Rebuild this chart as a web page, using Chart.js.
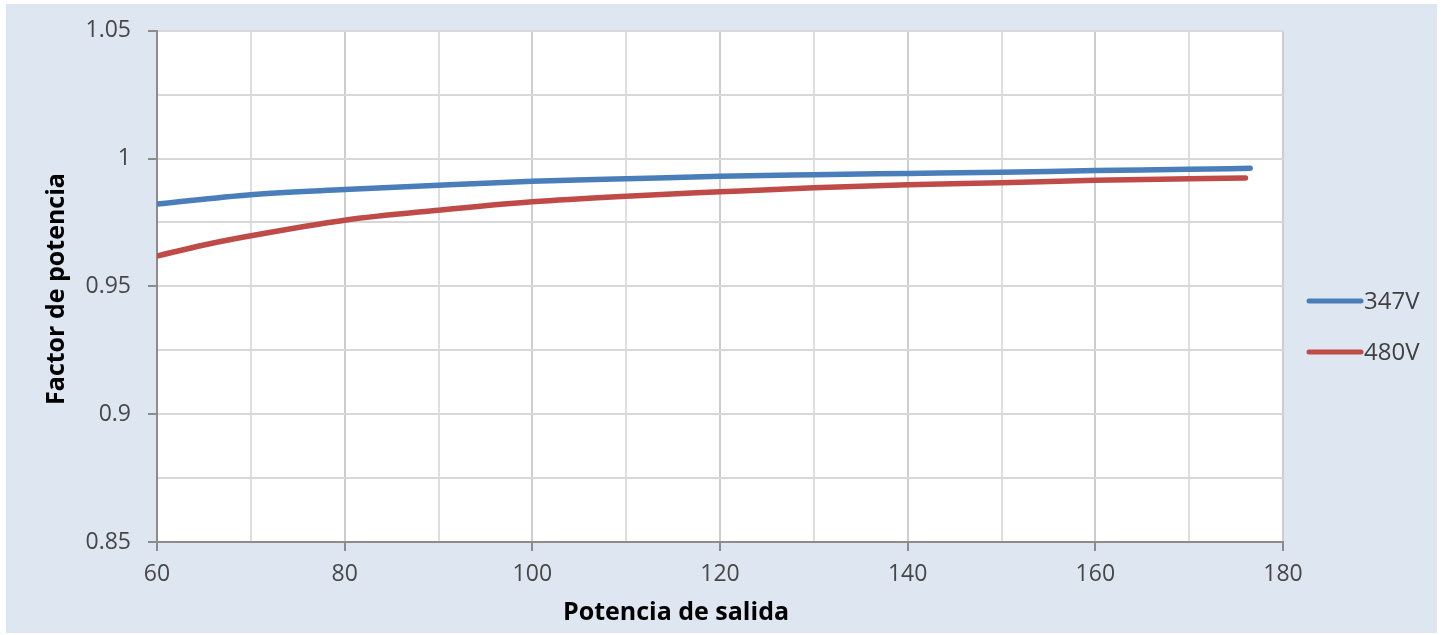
<!DOCTYPE html>
<html>
<head>
<meta charset="utf-8">
<script src="https://cdn.jsdelivr.net/npm/chart.js@4"></script>
<style>
  html, body { margin: 0; padding: 0; background: #ffffff; }
  canvas { display: block; }
</style>
</head>
<body>
<canvas id="pf" width="1444" height="635"></canvas>
<script>
// datos
var potencia347 = [60, 70, 80, 90, 100, 110, 120, 130, 140, 150, 160, 170, 176.5];
var factor347 = [0.9822, 0.9859, 0.9879, 0.9896, 0.9911, 0.9921, 0.9931, 0.9937, 0.9942, 0.9947, 0.9953, 0.9958, 0.9962];
var potencia480 = [60, 65, 70, 80, 90, 100, 110, 120, 130, 140, 150, 160, 170, 176];
var factor480 = [0.9619, 0.9662, 0.9698, 0.9759, 0.9798, 0.9831, 0.9853, 0.9870, 0.9886, 0.9898, 0.9906, 0.9915, 0.9921, 0.9924];
var series = ["347V", "480V"];
var colores = ["#4a7ebb", "#be4b48"];

function puntos(xs, ys) {
  return xs.map(function (x, i) { return {x: x, y: ys[i]}; });
}

var fuente = "'Open Sans', sans-serif";

var fondo = {
  id: 'fondo',
  beforeDraw: function (chart) {
    var ctx = chart.ctx, a = chart.chartArea;
    ctx.save();
    ctx.fillStyle = '#ffffff';
    ctx.fillRect(0, 0, chart.width, chart.height);
    ctx.fillStyle = '#dee6f1';
    ctx.fillRect(6, 4, 1431, 629);
    ctx.fillStyle = '#ffffff';
    ctx.fillRect(a.left, a.top, a.right - a.left, a.bottom - a.top);
    ctx.restore();
  },
  afterDraw: function (chart) {
    var ctx = chart.ctx;
    ctx.save();
    // titulos de ejes
    ctx.fillStyle = '#000000';
    ctx.font = "bold 25px " + fuente;
    ctx.textAlign = 'center';
    ctx.textBaseline = 'middle';
    ctx.fillText('Potencia de salida', 676, 613);
    ctx.translate(57, 289);
    ctx.rotate(-Math.PI / 2);
    ctx.fillText('Factor de potencia', 0, 0);
    ctx.restore();

    // leyenda
    ctx.save();
    ctx.font = "24px " + fuente;
    ctx.textAlign = 'left';
    ctx.textBaseline = 'middle';
    chart.data.datasets.forEach(function (ds, i) {
      var y = 301 + i * 51;
      ctx.strokeStyle = ds.borderColor;
      ctx.lineWidth = 5;
      ctx.lineCap = 'round';
      ctx.beginPath();
      ctx.moveTo(1309, y);
      ctx.lineTo(1361, y);
      ctx.stroke();
      ctx.fillStyle = '#404040';
      ctx.fillText(ds.label, 1364, y + 1);
    });
    ctx.restore();
  }
};

function esMayor(v, paso) {
  return Math.abs(Math.round(v / paso) * paso - v) < 1e-6;
}

new Chart(document.getElementById('pf'), {
  type: 'line',
  data: {
    datasets: [
      {label: series[0], data: puntos(potencia347, factor347), borderColor: colores[0], backgroundColor: colores[0]},
      {label: series[1], data: puntos(potencia480, factor480), borderColor: colores[1], backgroundColor: colores[1]}
    ].map(function (d) {
      d.borderWidth = 5.5;
      d.pointRadius = 0;
      d.cubicInterpolationMode = 'monotone';
      d.borderCapStyle = 'round';
      d.fill = false;
      return d;
    })
  },
  options: {
    responsive: false,
    animation: false,
    devicePixelRatio: 1,
    layout: {padding: {top: 28, right: 161, left: 0, bottom: 0}},
    plugins: {legend: {display: false}, tooltip: {enabled: false}},
    scales: {
      x: {
        type: 'linear',
        min: 60,
        max: 180,
        afterFit: function (s) { s.height = 93; },
        ticks: {
          stepSize: 10,
          autoSkip: false,
          maxRotation: 0,
          padding: 10,
          color: '#474747',
          font: {family: fuente, size: 23},
          callback: function (v) { return esMayor(v, 20) ? String(Math.round(v)) : ''; }
        },
        grid: {
          color: function (c) { return c.tick && esMayor(c.tick.value, 20) ? '#cdcdcd' : '#dedede'; },
          lineWidth: 2,
          tickLength: 9,
          tickColor: function (c) { return c.tick && esMayor(c.tick.value, 20) ? '#8c8c8c' : 'rgba(0,0,0,0)'; }
        },
        border: {color: '#8c8c8c', width: 2}
      },
      y: {
        min: 0.85,
        max: 1.05,
        afterFit: function (s) { s.width = 157; },
        ticks: {
          stepSize: 0.025,
          autoSkip: false,
          padding: 17,
          color: '#474747',
          font: {family: fuente, size: 23},
          callback: function (v) { return esMayor(v, 0.05) ? String(Math.round(v * 100) / 100) : ''; }
        },
        grid: {
          color: '#d8d8d8',
          lineWidth: 2,
          tickLength: 9,
          tickColor: function (c) { return c.tick && esMayor(c.tick.value, 0.05) ? '#8c8c8c' : 'rgba(0,0,0,0)'; }
        },
        border: {color: '#8c8c8c', width: 2}
      }
    }
  },
  plugins: [fondo]
});
</script>
</body>
</html>
